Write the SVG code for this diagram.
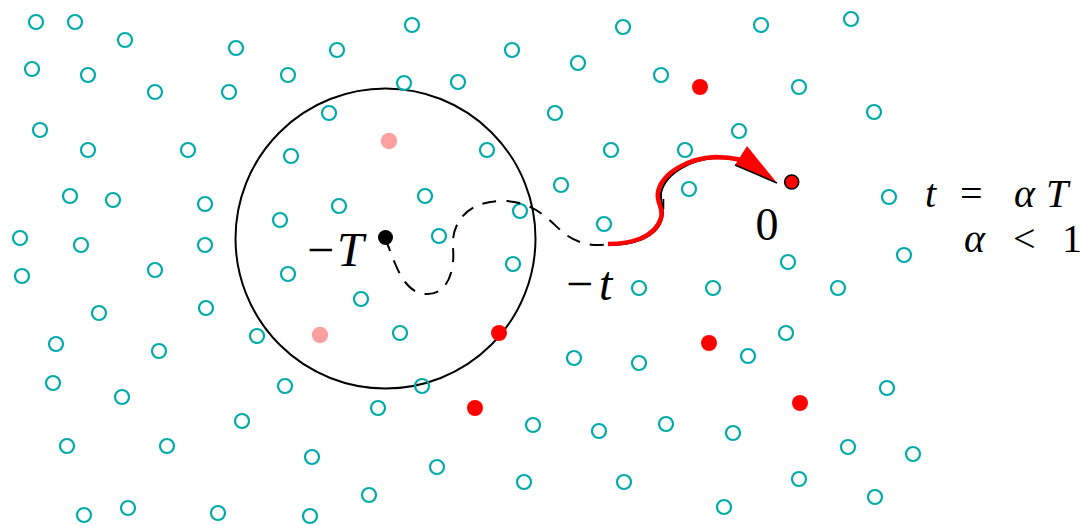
<svg xmlns="http://www.w3.org/2000/svg" width="1086" height="525" viewBox="0 0 1086 525">
<style>
.p{fill:none;stroke:#00aaaa;stroke-width:2.2}
.r{fill:#ff0000}
.k{fill:#ffa0a0}
.lbl{font-family:"Liberation Serif",serif;fill:#000}
.it{font-style:italic}
</style>
<rect width="1086" height="525" fill="#fff"/>
<g id="ball">
<circle cx="385.5" cy="238.5" r="150" fill="none" stroke="#000" stroke-width="2"/>
</g>
<g id="points">
<circle class="p" r="7" cx="36" cy="22"/><circle class="p" r="7" cx="75" cy="22"/><circle class="p" r="7" cx="125" cy="40"/><circle class="p" r="7" cx="236" cy="48"/><circle class="p" r="7" cx="337" cy="50"/><circle class="p" r="7" cx="412" cy="25"/><circle class="p" r="7" cx="512" cy="50"/><circle class="p" r="7" cx="623" cy="27"/><circle class="p" r="7" cx="761" cy="25"/><circle class="p" r="7" cx="851" cy="19"/>
<circle class="p" r="7" cx="32" cy="69"/><circle class="p" r="7" cx="88" cy="75"/><circle class="p" r="7" cx="155" cy="92"/><circle class="p" r="7" cx="229" cy="92"/><circle class="p" r="7" cx="288" cy="75"/><circle class="p" r="7" cx="404" cy="83"/><circle class="p" r="7" cx="458" cy="82"/><circle class="p" r="7" cx="578" cy="63"/><circle class="p" r="7" cx="661" cy="75"/><circle class="p" r="7" cx="799" cy="87"/>
<circle class="p" r="7" cx="329" cy="113"/><circle class="p" r="7" cx="555" cy="113"/><circle class="p" r="7" cx="874" cy="112"/><circle class="p" r="7" cx="40" cy="130"/><circle class="p" r="7" cx="88" cy="150"/><circle class="p" r="7" cx="188" cy="150"/><circle class="p" r="7" cx="291" cy="156"/><circle class="p" r="7" cx="487" cy="150"/><circle class="p" r="7" cx="611" cy="150"/><circle class="p" r="7" cx="685" cy="150"/><circle class="p" r="7" cx="739" cy="131"/>
<circle class="p" r="7" cx="70" cy="196"/><circle class="p" r="7" cx="113" cy="200"/><circle class="p" r="7" cx="205" cy="204"/><circle class="p" r="7" cx="339" cy="206"/><circle class="p" r="7" cx="425" cy="196"/><circle class="p" r="7" cx="561" cy="185"/><circle class="p" r="7" cx="689" cy="189"/><circle class="p" r="7" cx="889" cy="197"/>
<circle class="p" r="7" cx="280" cy="220"/><circle class="p" r="7" cx="520" cy="211"/><circle class="p" r="7" cx="604" cy="224"/><circle class="p" r="7" cx="20" cy="238"/><circle class="p" r="7" cx="81" cy="245"/><circle class="p" r="7" cx="205" cy="245"/><circle class="p" r="7" cx="439" cy="236"/>
<circle class="p" r="7" cx="22" cy="276"/><circle class="p" r="7" cx="155" cy="270"/><circle class="p" r="7" cx="288" cy="274"/><circle class="p" r="7" cx="513" cy="264"/><circle class="p" r="7" cx="788" cy="262"/><circle class="p" r="7" cx="904" cy="255"/>
<circle class="p" r="7" cx="361" cy="299"/><circle class="p" r="7" cx="99" cy="313"/><circle class="p" r="7" cx="206" cy="308"/><circle class="p" r="7" cx="639" cy="288"/><circle class="p" r="7" cx="713" cy="288"/><circle class="p" r="7" cx="838" cy="288"/>
<circle class="p" r="7" cx="257" cy="336"/><circle class="p" r="7" cx="56" cy="344"/><circle class="p" r="7" cx="159" cy="351"/><circle class="p" r="7" cx="400" cy="333"/><circle class="p" r="7" cx="574" cy="358"/><circle class="p" r="7" cx="639" cy="363"/><circle class="p" r="7" cx="786" cy="333"/><circle class="p" r="7" cx="748" cy="356"/>
<circle class="p" r="7" cx="53" cy="383"/><circle class="p" r="7" cx="285" cy="386"/><circle class="p" r="7" cx="122" cy="397"/><circle class="p" r="7" cx="422" cy="386"/><circle class="p" r="7" cx="887" cy="388"/>
<circle class="p" r="7" cx="242" cy="421"/><circle class="p" r="7" cx="378" cy="408"/><circle class="p" r="7" cx="533" cy="425"/><circle class="p" r="7" cx="599" cy="431"/><circle class="p" r="7" cx="666" cy="424"/><circle class="p" r="7" cx="733" cy="433"/>
<circle class="p" r="7" cx="67" cy="446"/><circle class="p" r="7" cx="167" cy="446"/><circle class="p" r="7" cx="312" cy="457"/><circle class="p" r="7" cx="437" cy="467"/><circle class="p" r="7" cx="524" cy="482"/><circle class="p" r="7" cx="624" cy="482"/><circle class="p" r="7" cx="848" cy="447"/><circle class="p" r="7" cx="913" cy="454"/><circle class="p" r="7" cx="799" cy="479"/><circle class="p" r="7" cx="875" cy="497"/>
<circle class="p" r="7" cx="84" cy="515"/><circle class="p" r="7" cx="128" cy="508"/><circle class="p" r="7" cx="218" cy="513"/><circle class="p" r="7" cx="310" cy="516"/><circle class="p" r="7" cx="369" cy="495"/><circle class="p" r="7" cx="724" cy="507"/>
</g>
<g id="red-points">
<circle class="r" r="8" cx="700" cy="87"/><circle class="r" r="8" cx="499" cy="333"/><circle class="r" r="8" cx="709" cy="343"/><circle class="r" r="8" cx="475" cy="408"/><circle class="r" r="8" cx="800" cy="403"/>
</g>
<g id="pink-points">
<circle class="k" r="8.2" cx="389" cy="141"/><circle class="k" r="8.2" cx="320" cy="335"/>
</g>
<g id="connectors">
<path d="M385,238 C395,262 402,292 425,294 C448,296 455,270 453,248 C451,225 465,202 500,201 C535,200 550,222 565,234 C578,244 595,247 608,244" fill="none" stroke="#000" stroke-width="2" stroke-dasharray="14 10"/>
<path d="M608,245 C631,245 656,239 662,219 C665,209 660,203 661,193 C665,173 692,159 716,158 C726,158 734,159 742,161" fill="none" stroke="#000" stroke-width="2"/>
<line x1="663.5" y1="199" x2="663.5" y2="209" stroke="#000" stroke-width="1.6"/>
<path d="M608,244 C630,244 655,238 661,218 C664,208 656,203 658,192 C662,172 690,158 715,157 C725,157 733,158 742,160" fill="none" stroke="#ff0000" stroke-width="4.5"/>
<polygon points="747,146 777,183 735,165" fill="#ff0000"/>
<line x1="735" y1="165" x2="777" y2="183" stroke="#000" stroke-width="1.5"/>
</g>
<g id="origin-T">
<circle cx="385.5" cy="237.5" r="7.5" fill="#000"/>
<text class="lbl" y="266" font-size="48"><tspan x="307">−</tspan><tspan class="it" x="337">T</tspan></text>
</g>
<g id="origin-0">
<circle cx="791.7" cy="182" r="7" fill="#ff0000" stroke="#000" stroke-width="1.6"/>
<text class="lbl" x="767" y="240" font-size="46" text-anchor="middle">0</text>
</g>
<g id="label-t">
<text class="lbl" y="300" font-size="48"><tspan x="566">−</tspan><tspan class="it" x="599">t</tspan></text>
</g>
<g id="label-alpha">
<text class="lbl" font-size="40" y="207"><tspan class="it" x="925">t</tspan><tspan x="960">=</tspan><tspan class="it" x="1014">α</tspan><tspan class="it" x="1046">T</tspan></text>
<text class="lbl" font-size="40" y="252"><tspan class="it" x="964">α</tspan><tspan x="1013">&lt;</tspan><tspan x="1062">1</tspan></text>
</g>
</svg>
